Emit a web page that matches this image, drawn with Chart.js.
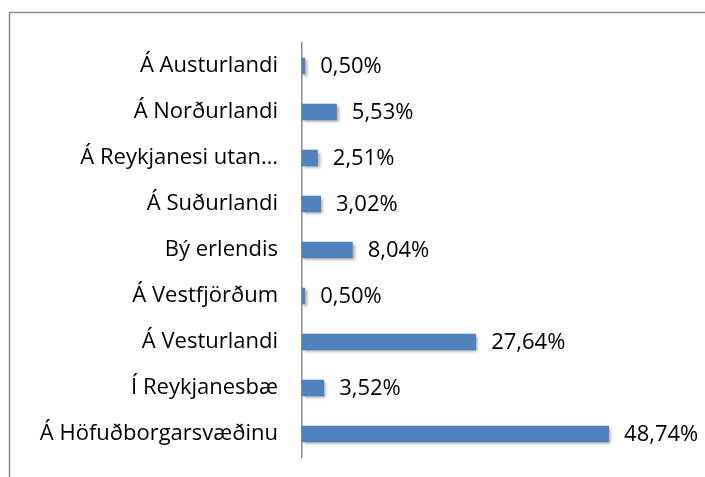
<!DOCTYPE html>
<html>
<head>
<meta charset="utf-8">
<script src="https://cdn.jsdelivr.net/npm/chart.js@4"></script>
<style>
  html, body { margin: 0; padding: 0; background: #fff; }
  #wrap { width: 705px; height: 477px; }
</style>
</head>
<body>
<div id="wrap"><canvas id="chart" width="705" height="477"></canvas></div>
<script>
// data
var categories = [
  "Á Austurlandi",
  "Á Norðurlandi",
  "Á Reykjanesi utan…",
  "Á Suðurlandi",
  "Bý erlendis",
  "Á Vestfjörðum",
  "Á Vesturlandi",
  "Í Reykjanesbæ",
  "Á Höfuðborgarsvæðinu"
];
var shares = [0.50, 5.53, 2.51, 3.02, 8.04, 0.50, 27.64, 3.52, 48.74];

var FONT = "'Open Sans', 'Liberation Sans', sans-serif";

// grey frame round the chart
var framePlugin = {
  id: "frame",
  beforeDraw: function (chart) {
    var ctx = chart.ctx;
    ctx.save();
    ctx.strokeStyle = "#8c8c8c";
    ctx.lineWidth = 1.5;
    ctx.beginPath();
    ctx.moveTo(9.5, chart.height + 5);
    ctx.lineTo(9.5, 12.5);
    ctx.lineTo(chart.width + 5, 12.5);
    ctx.stroke();
    ctx.restore();
  }
};

// soft shadow under the bars
var shadowPlugin = {
  id: "barShadow",
  beforeDatasetsDraw: function (chart) {
    var ctx = chart.ctx;
    ctx.save();
    ctx.shadowColor = "rgba(0,0,0,0.35)";
    ctx.shadowBlur = 3;
    ctx.shadowOffsetX = 2;
    ctx.shadowOffsetY = 2;
  },
  afterDatasetsDraw: function (chart) {
    chart.ctx.restore();
  }
};

// value labels at the end of each bar
var valueLabels = {
  id: "valueLabels",
  afterDatasetsDraw: function (chart) {
    var ctx = chart.ctx;
    var meta = chart.getDatasetMeta(0);
    ctx.save();
    ctx.font = "22px " + FONT;
    ctx.fillStyle = "#000";
    ctx.textBaseline = "middle";
    ctx.textAlign = "left";
    meta.data.forEach(function (bar, i) {
      var txt = shares[i].toFixed(2).replace(".", ",") + "%";
      ctx.fillText(txt, bar.x + 15, bar.y + 1);
    });
    ctx.restore();
  }
};

new Chart(document.getElementById("chart"), {
  type: "bar",
  data: {
    labels: categories,
    datasets: [{
      data: shares,
      backgroundColor: "#4f81bd",
      borderWidth: 0,
      barPercentage: 0.36,
      categoryPercentage: 1
    }]
  },
  options: {
    indexAxis: "y",
    responsive: false,
    animation: false,
    layout: { padding: { top: 43, bottom: 20, right: 25, left: 0 } },
    plugins: {
      legend: { display: false },
      tooltip: { enabled: false }
    },
    scales: {
      x: {
        display: false,
        min: 0,
        max: 60
      },
      y: {
        afterFit: function (scale) {
          scale.width = 302;
          scale.paddingTop = 0;
          scale.paddingBottom = 0;
        },
        grid: { display: false, drawTicks: true, tickLength: 24 },
        border: { display: true, color: "#8c8c8c", width: 1.5 },
        ticks: {
          padding: 0,
          color: "#000",
          font: { family: FONT, size: 22 }
        }
      }
    }
  },
  plugins: [framePlugin, shadowPlugin, valueLabels]
});
</script>
</body>
</html>
